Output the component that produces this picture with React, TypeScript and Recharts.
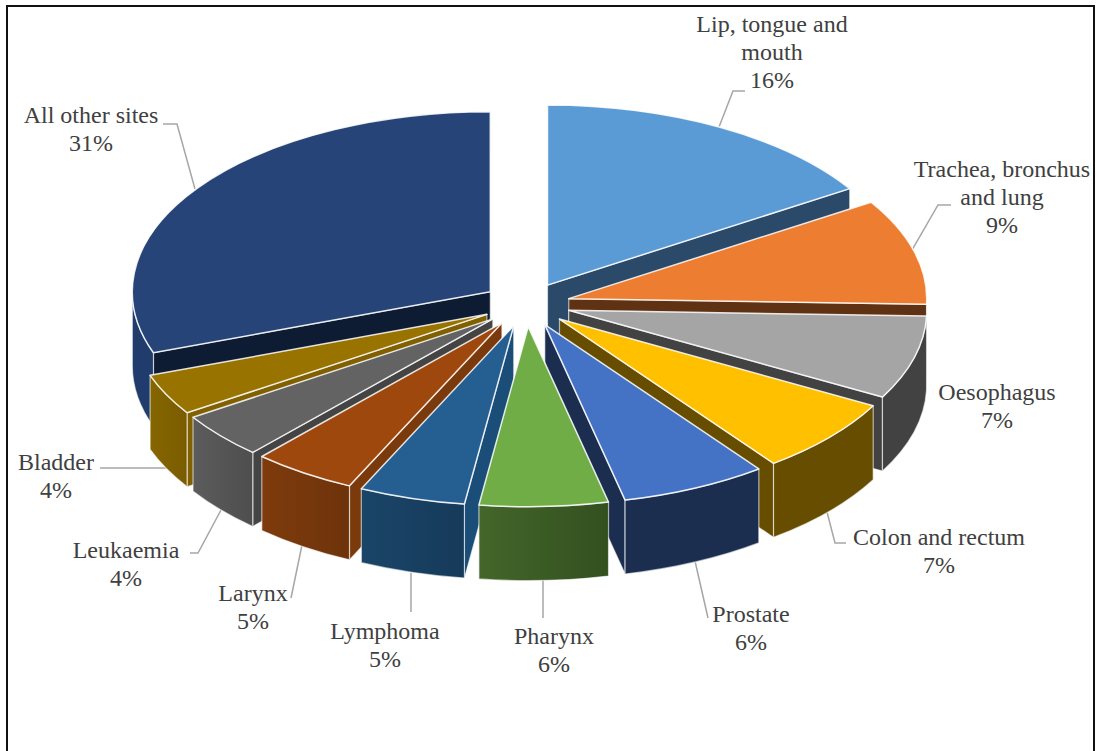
import React from 'react';
import { PieChart, Pie } from 'recharts';

const SITES = ['Lip, tongue and mouth', 'Trachea, bronchus and lung', 'Oesophagus', 'Colon and rectum', 'Prostate', 'Pharynx', 'Lymphoma', 'Larynx', 'Leukaemia', 'Bladder', 'All other sites'];
const SHARES = [16.0, 9.5, 7.5, 6.8, 6.6, 5.8, 4.8, 4.7, 4.1, 3.7, 30.5];
const PERCENT_LABELS = ['16%', '9%', '7%', '7%', '6%', '6%', '5%', '5%', '4%', '4%', '31%'];

const TOP_COLORS = ['#5B9BD5', '#ED7D31', '#A5A5A5', '#FFC000', '#4472C4', '#70AD47', '#255E91', '#9E480E', '#636363', '#997300', '#264478'];
const CUT_COLORS = ['#2B4A69', '#5F3214', '#424242', '#664D00', '#1B2E50', '#2C4A1C', '#1A4D78', '#7A3A0C', '#444444', '#806000', '#0D1B33'];
const WALL_LEFT = ['#2B4A69', '#5F3214', '#424242', '#664D00', '#1B2E50', '#43662A', '#1A4568', '#7E3B0C', '#5C5C5C', '#866600', '#203C6C'];
const WALL_RIGHT = ['#2B4A69', '#5F3214', '#424242', '#664D00', '#1B2E50', '#33501F', '#163A5A', '#6E330B', '#4E4E4E', '#7A5C00', '#203C6C'];

// back to front, so nearer slices cover the ones behind
const PAINT_ORDER = [0, 10, 1, 9, 2, 8, 3, 7, 4, 6, 5];

const tableData = SITES.map((name, i) => ({ name, value: SHARES[i] }));

const TILT = 0.503;
const EXPLODE = 44;
const DEPTH = 74;

const LABEL_LINES = [
  ['Lip, tongue and', 'mouth', '16%'],
  ['Trachea, bronchus', 'and lung', '9%'],
  ['Oesophagus', '7%'],
  ['Colon and rectum', '7%'],
  ['Prostate', '6%'],
  ['Pharynx', '6%'],
  ['Lymphoma', '5%'],
  ['Larynx', '5%'],
  ['Leukaemia', '4%'],
  ['Bladder', '4%'],
  ['All other sites', '31%'],
];
const LABEL_X = [772, 1002, 997, 939, 751, 554, 385, 253, 126, 56, 91];
const LABEL_Y = [32, 177, 400, 545, 622, 644, 639, 601, 558, 470, 123];
const LEADERS = [
  '719,127 733,91 745,91',
  '908,257 938,205 951,205',
  '',
  '827,512 835,543 846,543',
  '695,561 708,618',
  '543,580 543,618',
  '411,573 411,612',
  '302,545 291,598',
  '221,510 198,553 190,553',
  '167,468 100,468',
  '195,189 177,124 163,124',
];

const rad = (d: number) => (d * Math.PI) / 180;

function Slice({ cx, cy, outerRadius, startAngle, endAngle, idx }: any) {
  const rx = outerRadius;
  const ry = outerRadius * TILT;
  // clockwise degrees from the top of the pie
  const a0 = 90 - startAngle;
  const a1 = 90 - endAngle;
  const mid = (a0 + a1) / 2;
  const ax = cx + EXPLODE * Math.sin(rad(mid));
  const ay = cy - EXPLODE * TILT * Math.cos(rad(mid));
  const pt = (a: number, drop = 0) => [ax + rx * Math.sin(rad(a)), ay - ry * Math.cos(rad(a)) + drop];
  const large = (from: number, to: number) => (to - from > 180 ? 1 : 0);

  const [x0, y0] = pt(a0);
  const [x1, y1] = pt(a1);
  const topPath = `M${ax},${ay} L${x0},${y0} A${rx},${ry} 0 ${large(a0, a1)} 1 ${x1},${y1} Z`;

  const cut = (a: number) => {
    const [px, py] = pt(a);
    return `M${ax},${ay} L${px},${py} L${px},${py + DEPTH} L${ax},${ay + DEPTH} Z`;
  };
  const showStart = Math.sin(rad(a0)) < 0;
  const showEnd = Math.sin(rad(a1)) > 0;

  const w0 = Math.max(a0, 90);
  const w1 = Math.min(a1, 270);
  let wallPath = '';
  if (w1 > w0) {
    const [wx0, wy0] = pt(w0);
    const [wx1, wy1] = pt(w1);
    wallPath = `M${wx0},${wy0} A${rx},${ry} 0 ${large(w0, w1)} 1 ${wx1},${wy1} L${wx1},${wy1 + DEPTH} A${rx},${ry} 0 ${large(w0, w1)} 0 ${wx0},${wy0 + DEPTH} Z`;
  }
  const gradId = `wall-${idx}`;
  const edge = { stroke: '#ffffff', strokeOpacity: 0.6, strokeWidth: 1.2, strokeLinejoin: 'round' as const };

  return (
    <g>
      <defs>
        <linearGradient id={gradId} x1="0" y1="0" x2="1" y2="0">
          <stop offset="0" stopColor={WALL_LEFT[idx]} />
          <stop offset="1" stopColor={WALL_RIGHT[idx]} />
        </linearGradient>
      </defs>
      {showStart && <path d={cut(a0)} fill={CUT_COLORS[idx]} {...edge} />}
      {showEnd && <path d={cut(a1)} fill={CUT_COLORS[idx]} {...edge} />}
      {wallPath && <path d={wallPath} fill={`url(#${gradId})`} {...edge} />}
      <path d={topPath} fill={TOP_COLORS[idx]} stroke="#ffffff" strokeOpacity={0.85} strokeWidth={1.5} strokeLinejoin="round" />
    </g>
  );
}

export default function App() {
  return (
    <div style={{ position: 'absolute', left: 0, top: 0, width: 1097, height: 751, background: '#fff' }}>
      <PieChart width={1097} height={751} margin={{ top: 0, right: 0, bottom: 0, left: 0 }}>
        {PAINT_ORDER.map((idx) => (
          <Pie
            key={idx}
            data={tableData}
            dataKey="value"
            nameKey="name"
            cx={526.3}
            cy={304.5}
            innerRadius={0}
            outerRadius={358}
            startAngle={90}
            endAngle={-270}
            isAnimationActive={false}
            shape={(props: any) => (props.name === SITES[idx] ? <Slice {...props} idx={idx} /> : <g />)}
          />
        ))}
        <path d="M7,751 L7,6 L1094,6 L1094,751" fill="none" stroke="#111111" strokeWidth={2} />
        {LEADERS.map((pts, i) =>
          pts ? <polyline key={i} points={pts} fill="none" stroke="#a6a6a6" strokeWidth={1.5} /> : null
        )}
        {LABEL_LINES.map((lines, i) => (
          <text key={i} textAnchor="middle" fontFamily="'Liberation Serif', serif" fontSize={24} fill="#404040">
            {lines.map((line, j) => (
              <tspan key={j} x={LABEL_X[i]} y={LABEL_Y[i] + j * 28}>
                {j === lines.length - 1 ? PERCENT_LABELS[i] : line}
              </tspan>
            ))}
          </text>
        ))}
      </PieChart>
    </div>
  );
}
